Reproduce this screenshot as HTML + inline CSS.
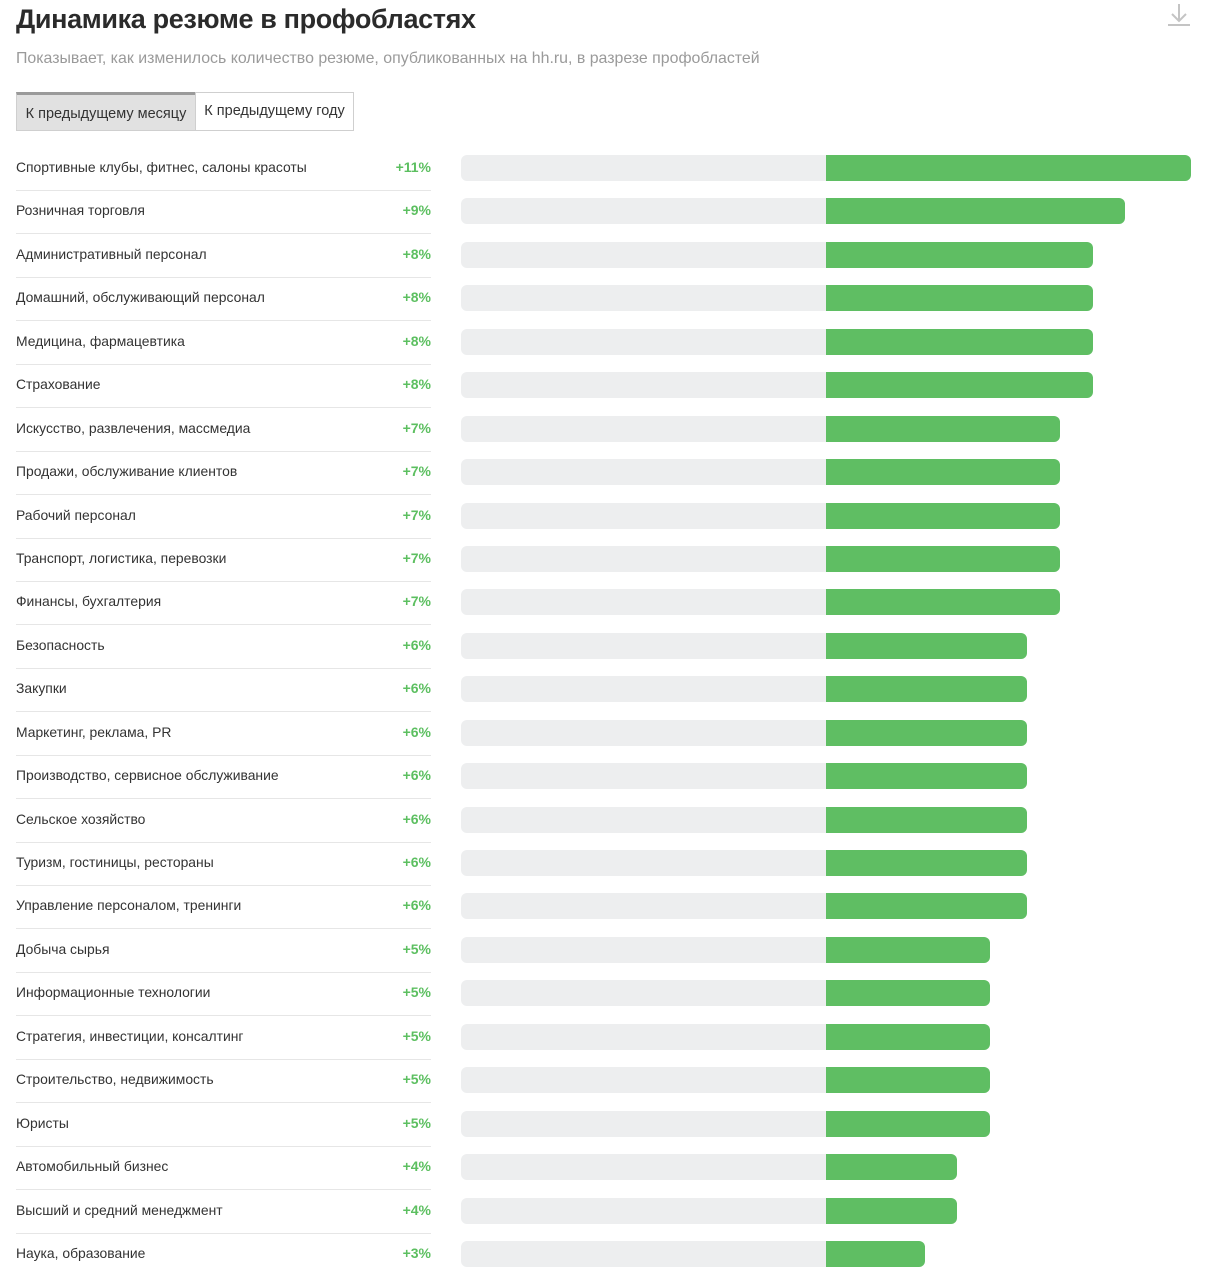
<!DOCTYPE html>
<html><head><meta charset="utf-8"><style>
body{margin:0;width:1208px;height:1280px;background:#fff;font-family:"Liberation Sans",sans-serif;position:relative;overflow:hidden}
.abs{position:absolute}
h1{position:absolute;left:16px;top:4px;margin:0;font-size:27px;font-weight:bold;color:#2b2b2b;letter-spacing:-0.35px}
.sub{left:16px;top:50px;font-size:15.9px;color:#9a9a9a}
.tab{top:92px;height:39px;font-size:14.5px;color:#333;box-sizing:border-box;text-align:center}
.lbl{left:16px;font-size:13.9px;color:#333}
.val{left:370px;width:61px;text-align:right;font-size:14px;font-weight:bold;color:#5cbf60}
.sep{left:16px;width:415px;height:1px;background:#e6e6e6}
.track{left:461px;width:365px;height:26px;background:#edeeef;border-radius:6px 0 0 6px}
.bar{height:26px;background:#5fbe63;border-radius:0 6px 6px 0}
</style></head><body>
<h1>Динамика резюме в профобластях</h1>
<div class="abs sub">Показывает, как изменилось количество резюме, опубликованных на hh.ru, в разрезе профобластей</div>
<svg class="abs" style="left:1166px;top:2px" width="26" height="26"><path d="M13 2v17M6 12l7 7 7-7M2 23h22" stroke="#c4c4c4" stroke-width="2" fill="none"/></svg>
<div class="abs tab" style="left:16px;width:180px;background:#e1e1e1;border:1px solid #cfcfcf;border-top:3px solid #9a9a9a;line-height:38px">К предыдущему месяцу</div>
<div class="abs tab" style="left:195px;width:159px;background:#fff;border:1px solid #cfcfcf;line-height:36px">К предыдущему году</div>
<div id="chart"></div>
<script>
const categories=["Спортивные клубы, фитнес, салоны красоты","Розничная торговля","Административный персонал","Домашний, обслуживающий персонал","Медицина, фармацевтика","Страхование","Искусство, развлечения, массмедиа","Продажи, обслуживание клиентов","Рабочий персонал","Транспорт, логистика, перевозки","Финансы, бухгалтерия","Безопасность","Закупки","Маркетинг, реклама, PR","Производство, сервисное обслуживание","Сельское хозяйство","Туризм, гостиницы, рестораны","Управление персоналом, тренинги","Добыча сырья","Информационные технологии","Стратегия, инвестиции, консалтинг","Строительство, недвижимость","Юристы","Автомобильный бизнес","Высший и средний менеджмент","Наука, образование"];
const values=[11,9,8.05,8.05,8.05,8.05,7.05,7.05,7.05,7.05,7.05,6.05,6.05,6.05,6.05,6.05,6.05,6.05,4.95,4.95,4.95,4.95,4.95,3.95,3.95,2.98];
const labels=["+11%","+9%","+8%","+8%","+8%","+8%","+7%","+7%","+7%","+7%","+7%","+6%","+6%","+6%","+6%","+6%","+6%","+6%","+5%","+5%","+5%","+5%","+5%","+4%","+4%","+3%"];
const x0=826, pxPer=365/11;
function xScale(v){return v*pxPer;}
function yRow(i){return 168+i*43.44;}
const c=document.getElementById('chart');
categories.forEach((cat,i)=>{
  const y=yRow(i);
  const l=document.createElement('div');l.className='abs lbl';l.style.top=(y-9)+'px';l.textContent=cat;
  
  c.appendChild(l);
  const v=document.createElement('div');v.className='abs val';v.style.top=(y-9)+'px';v.textContent=labels[i];
  
  c.appendChild(v);
  if(i<categories.length-1){const s=document.createElement('div');s.className='abs sep';s.style.top=Math.round(y+22)+'px';
  
  c.appendChild(s);}
  const t=document.createElement('div');t.className='abs track';t.style.top=Math.round(y-13)+'px';
  
  c.appendChild(t);
  const b=document.createElement('div');b.className='abs bar';b.style.top=Math.round(y-13)+'px';b.style.left=x0+'px';b.style.width=xScale(values[i])+'px';
  
  c.appendChild(b);
});
</script>
</body></html>
